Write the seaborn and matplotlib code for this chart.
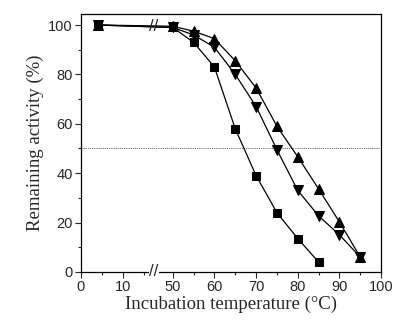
import matplotlib
matplotlib.use("Agg")
import matplotlib.pyplot as plt
import numpy as np
import pandas as pd
import seaborn as sns

# Data
temps = [4, 50, 55, 60, 65, 70, 75, 80, 85, 90, 95]
square_act = [100, 99, 93, 83, 58, 39, 24, 13.5, 4]
up_act = [100, 99.5, 97.5, 94.5, 85.5, 74.5, 59, 46.6, 33.6, 20.2, 6]
down_act = [100, 99, 96, 91, 80, 67, 49.5, 33, 22.7, 15, 6]

major_ticks = [0, 10, 50, 60, 70, 80, 90, 100]
minor_ticks = [5, 15, 55, 65, 75, 85, 95]
y_ticks = [0, 20, 40, 60, 80, 100]

# broken x axis: 17.5..50 squeezed into a short gap
def fwd(x):
    x = np.asarray(x, dtype=float)
    return np.where(x <= 17.5, x, np.where(x >= 50, x - 28, 17.5 + (x - 17.5) * 4.5 / 32.5))

def inv(u):
    u = np.asarray(u, dtype=float)
    return np.where(u <= 17.5, u, np.where(u >= 22, u + 28, 17.5 + (u - 17.5) * 32.5 / 4.5))

df = pd.concat([
    pd.DataFrame({"temp": temps[:len(square_act)], "act": square_act, "series": "square"}),
    pd.DataFrame({"temp": temps, "act": up_act, "series": "up"}),
    pd.DataFrame({"temp": temps, "act": down_act, "series": "down"}),
])

sns.set_style("ticks")
plt.rcParams["font.family"] = ["Liberation Sans", "DejaVu Sans"]

fig = plt.figure(figsize=(3.95, 3.23), dpi=100)
ax = fig.add_axes([0.205, 0.158, 0.76, 0.799])
ax.set_xscale("function", functions=(fwd, inv))

markers = {"square": "s", "up": "^", "down": "v"}
sizes = {"square": 6, "up": 7.5, "down": 7.5}
for name in ["square", "down", "up"]:
    sub = df[df.series == name]
    sns.lineplot(data=sub, x="temp", y="act", ax=ax, color="black", lw=0.9,
                 marker=markers[name], markersize=sizes[name], markeredgecolor="black",
                 markerfacecolor="black", legend=False)

ax.axhline(50, color="#555555", lw=0.7, ls=(0, (1, 1.2)), zorder=0)

ax.set_xlim(0, 100)
ax.set_ylim(0, 104.5)
ax.set_xticks(major_ticks)
ax.set_xticks(minor_ticks, minor=True)
ax.set_xticklabels([str(t) for t in major_ticks])
ax.set_yticks(y_ticks)
ax.set_yticks([10, 30, 50, 70, 90], minor=True)
ax.tick_params(axis="both", which="major", direction="out", length=4, width=0.8, labelsize=10.5, pad=2)
ax.tick_params(axis="both", which="minor", direction="out", length=2.5, width=0.8)
for s in ax.spines.values():
    s.set_linewidth(0.9)
    s.set_color("black")

# break marks
ax.text(17.8, 0, "//", ha="center", va="center", fontsize=12, clip_on=False,
        bbox=dict(facecolor="white", edgecolor="none", pad=0))
ax.text(17.8, 99.4, "//", ha="center", va="center", fontsize=12)

ax.set_xlabel("Incubation temperature (°C)", family="Liberation Serif", fontsize=13.5, labelpad=1)
ax.set_ylabel("Remaining activity (%)", family="Liberation Serif", fontsize=13.5, labelpad=3)

fig.savefig("out.png", dpi=100)
